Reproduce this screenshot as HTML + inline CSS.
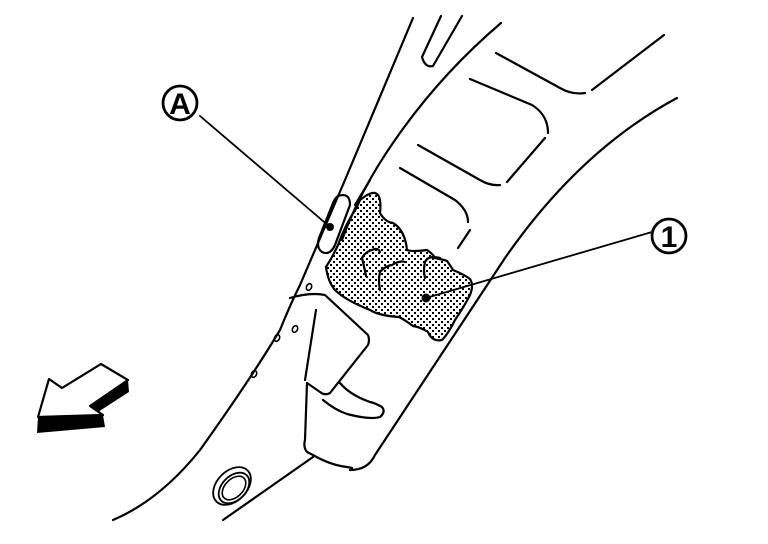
<!DOCTYPE html>
<html><head><meta charset="utf-8"><style>html,body{margin:0;padding:0;background:#fff}svg{display:block}</style></head><body>
<svg width="768" height="544" viewBox="0 0 768 544" xmlns="http://www.w3.org/2000/svg">
<defs><pattern id="dots" width="6" height="6" patternUnits="userSpaceOnUse"><rect width="2" height="2" fill="#000"/><rect x="3" y="3" width="2" height="2" fill="#000"/></pattern></defs>
<g fill="none" stroke="#000" stroke-width="2.2" stroke-linecap="round" stroke-linejoin="round">
<path d="M413,18 L345,180 L300,285 Q290,305 280,330 Q250,380 200,450 Q160,500 113,520"/>
<path d="M441,16 L422,57 Q425,68 433,66 L462,16"/>
<path d="M501,23 Q440,75 395,140 Q360,190 342,240"/>
<path d="M370,180 L355,205"/>
<path d="M677,98 Q580,150 505,258 L375,455 Q368,470 350,470"/>
<path d="M664,35 L592,90"/>
<path d="M496,53 L560,88 Q572,95 585,93"/>
<path d="M470,79 L532,105 Q548,115 548,133"/>
<path d="M545,138 L507,182"/>
<path d="M418,145 L480,180 Q490,186 500,185"/>
<path d="M400,168 L455,200 Q468,210 468,222"/>
<path d="M470,230 L458,248"/>
<path fill="url(#dots)" d="M360,200 Q370,192 375,193 Q382,195 380,213 Q385,222 393,223 Q405,230 407,250 Q412,252 427,250 Q433,254 435,258 Q445,260 447,261 Q452,268 453,270 Q465,275 470,279 Q474,285 470,295 Q465,305 455,320 Q448,334 442,340 Q432,342 428,332 Q420,327 413,326 Q405,320 399,317 Q380,316 370,310 Q345,300 335,290 Q328,282 326,267 Q332,258 338,245 Q345,225 357,207 Z"/>
<path d="M362,258 Q365,252 372,250 Q378,247 380,252 M362,258 Q365,270 366,276"/>
<path d="M380,272 Q385,266 392,265 Q400,260 405,262 M380,272 Q378,280 380,290"/>
<path d="M425,262 Q428,255 440,258 M425,262 Q423,270 425,278"/>
<path d="M338,196 Q350,192 350,205 L335,245 Q330,256 322,252 Q316,248 319,238 L333,203 Q335,198 338,196 Z"/>
<path d="M290,298 Q310,292 325,295 L368,335 Q370,340 368,345 L330,393 Q325,396 320,392 L307,383 L305,440 Q303,447 307,452 L313,455 Q330,465 347,467 L352,468"/>
<path d="M316,310 L305,380"/>
<path d="M323,400 Q335,410 347,414 Q370,420 380,417 Q386,412 382,407 Q375,403 370,402 Q350,395 340,383"/>
<path d="M313,457 L223,520"/>
<ellipse cx="309" cy="287" rx="2.5" ry="3.5" transform="rotate(25 309 287)" stroke-width="1.6"/>
<ellipse cx="295" cy="329" rx="2.5" ry="3.5" transform="rotate(25 295 329)" stroke-width="1.6"/>
<ellipse cx="277" cy="338" rx="2.5" ry="3.5" transform="rotate(25 277 338)" stroke-width="1.6"/>
<ellipse cx="254" cy="374" rx="2.5" ry="3.5" transform="rotate(25 254 374)" stroke-width="1.6"/>
<ellipse cx="232" cy="486" rx="22" ry="15" transform="rotate(-45 232 486)" stroke-width="1.8"/>
<ellipse cx="234" cy="488" rx="18" ry="12" transform="rotate(-45 234 488)" stroke-width="1.8"/>
<ellipse cx="234" cy="488" rx="14" ry="9" transform="rotate(-45 234 488)" stroke-width="1.6"/>
<path d="M200,116 L330,227" stroke-width="1.8"/>
<path d="M426,298 L652,232" stroke-width="1.8"/>
<circle cx="180" cy="103" r="17" stroke-width="2.8"/>
<circle cx="669" cy="236" r="17" stroke-width="2.8"/>
<path d="M49,379 L62,388 L101,364 L128,380 L90,406 L103,415 L38,417 Z"/>
</g>
<circle cx="330" cy="227" r="4" fill="#000"/>
<circle cx="426" cy="298" r="4.5" fill="#000"/>
<path d="M38,417 L103,415 L105,427 L37,433 Z" fill="#000"/>
<path d="M128,380 L129,392 L98,412 L90,406 Z" fill="#000"/>
<text x="180" y="114" font-family="Liberation Sans, sans-serif" font-size="30" font-weight="bold" text-anchor="middle">A</text>
<text x="669" y="247" font-family="Liberation Sans, sans-serif" font-size="30" font-weight="bold" text-anchor="middle">1</text>
</svg>
</body></html>
